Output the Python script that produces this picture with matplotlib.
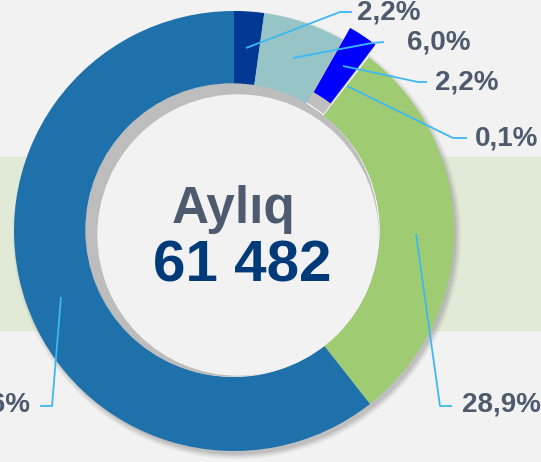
import numpy as np
import matplotlib.pyplot as plt
from matplotlib.patches import Circle, Rectangle

# данные: доли сегментов (по часовой стрелке от 12 часов)
labels = ["2,2%", "6,0%", "2,2%", "0,1%", "28,9%", "60,6%"]
values = [2.2, 6.0, 2.2, 0.1, 28.9, 60.6]
colors = ["#003893", "#96c4c7", "#0000ff", "#ffffff", "#9fcb72", "#1f71ab"]
center_title = "Aylıq"
center_value = "61 482"

W, H = 541, 462
def Y(y):
    return H - y

fig = plt.figure(figsize=(W / 100, H / 100), dpi=100)
fig.patch.set_facecolor("#f2f2f2")
ax = fig.add_axes([0, 0, 1, 1])

cx, cy = 234, Y(231)
R, ring = 220, 74

# фон: зелёная полоса
ax.add_patch(Rectangle((0, Y(330)), W, 173, color="#e1ead6", zorder=0))

# мягкая тень кольца
for i, a in enumerate([0.10, 0.12, 0.16, 0.2]):
    ax.add_patch(Circle((cx + 3, cy - 4), R + 4 - i * 1.5, color="#8a8a8a",
                        alpha=a, lw=0, zorder=0.5))

wedges, _ = ax.pie(values, colors=colors, startangle=90, counterclock=False,
                   radius=R, center=(cx, cy), explode=[0, 0, 14, 0, 0, 0],
                   wedgeprops=dict(width=ring, linewidth=0))
for w in wedges:
    w.set_zorder(2)

# внутренний круг с тенью
ax.add_patch(Circle((cx - 2, cy + 1), R - ring + 1, color="#ffffff", zorder=1.5))
ax.add_patch(Circle((cx - 2, cy + 1), R - ring, color="#bdbdbd", zorder=3))
ax.add_patch(Circle((cx + 4, cy - 4), 140, color="#f2f2f2", zorder=3.1))

font = "Liberation Sans"
ax.text(234, Y(223), center_title, ha="center", va="baseline", color="#4e5b6f",
        fontsize=37, fontweight="bold", family=font, zorder=5)
ax.text(242, Y(282), center_value, ha="center", va="baseline", color="#003a78",
        fontsize=42, fontweight="bold", family=font, zorder=5)

# выноски
line_col = "#3db9f2"
leaders = [
    [(246, 48), (340, 12), (352, 12)],
    [(293, 58), (372, 43), (384, 42)],
    [(343, 66), (418, 82), (427, 82)],
    [(347, 86), (453, 138), (467, 138)],
    [(416, 234), (440, 406), (452, 406)],
    [(61, 297), (52, 406), (40, 406)],
]
text_pos = [(357, 13, "left"), (407, 43, "left"), (435, 82, "left"),
            (475, 139, "left"), (462, 404, "left"), (30, 404, "right")]
for pts, (tx, ty, ha), lab in zip(leaders, text_pos, labels):
    xs = [p[0] for p in pts]
    ys = [Y(p[1]) for p in pts]
    ax.plot(xs, ys, color=line_col, lw=1.3, zorder=6, solid_capstyle="butt")
    ax.text(tx, Y(ty), lab, ha=ha, va="center", color="#4e5b6f", fontsize=20,
            fontweight="bold", family=font, zorder=6)

ax.set_xlim(0, W)
ax.set_ylim(0, H)
ax.axis("off")
fig.savefig("out.png", dpi=100, facecolor=fig.get_facecolor())
